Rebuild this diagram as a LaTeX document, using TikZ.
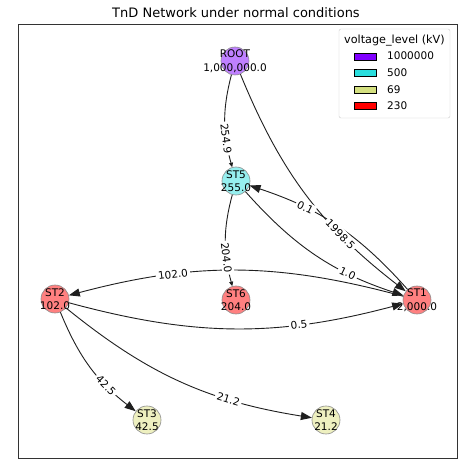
\documentclass[tikz,border=0pt]{standalone}
\usepackage{fontspec}
\setmainfont{DejaVu Sans}
\usetikzlibrary{arrows.meta}
\definecolor{lgpurple}{HTML}{8000FF}
\definecolor{lgcyan}{HTML}{2ADEDE}
\definecolor{lgolive}{HTML}{D4E080}
\definecolor{lgred}{HTML}{FF0000}
\definecolor{ndpurple}{HTML}{BF80FF}
\definecolor{ndcyan}{HTML}{96EFEF}
\definecolor{ndolive}{HTML}{EEF0C0}
\definecolor{ndred}{HTML}{FF8080}
\begin{document}
\begin{tikzpicture}[x=1pt,y=1pt,
  stn/.style={circle, draw=black!45, line width=0.6pt, minimum size=28pt, inner sep=0pt},
  stxt/.style={align=center, font=\fontsize{10.5}{13.5}\selectfont, inner sep=0pt},
  edgeline/.style={line width=0.9pt, draw=black!88, bend right=15},
  bigtip/.style={-{Triangle[length=11pt,width=8pt]}},
  smalltip/.style={-{Triangle[length=4.5pt,width=4pt]}},
  elab/.style={pos=0.7, sloped, fill=white, inner sep=2pt, font=\fontsize{10.5}{12}\selectfont},
  lgpatch/.style={draw=black, line width=0.6pt},
  lgtxt/.style={anchor=west, font=\fontsize{10.5}{12}\selectfont, inner sep=0pt}]
\useasboundingbox (0,0) rectangle (469,475);
\fill[white] (0,0) rectangle (469,475);
\node[font=\fontsize{13}{15}\selectfont] (title) at (236,462) {TnD Network under normal conditions};
\draw[black!80, line width=0.8pt] (18,17) rectangle (457,451);

% legend
\draw[black!20, fill=white, rounded corners=2pt] (339,357) rectangle (450,446);
\node[font=\fontsize{11.2}{13}\selectfont] (lgtitle) at (394.5,434.5) {voltage\_level (kV)};
\draw[lgpatch, fill=lgpurple] (354,415) rectangle (376,422);
\draw[lgpatch, fill=lgcyan] (354,399) rectangle (376,406);
\draw[lgpatch, fill=lgolive] (354,382) rectangle (376,389);
\draw[lgpatch, fill=lgred] (354,366) rectangle (376,373);
\node[lgtxt] (lg1) at (387,419) {1000000};
\node[lgtxt] (lg2) at (387,402.5) {500};
\node[lgtxt] (lg3) at (387,385.5) {69};
\node[lgtxt] (lg4) at (387,369) {230};

% nodes
\node[stn, fill=ndpurple] (root) at (235,414) {};
\node[stn, fill=ndcyan] (st5) at (236,294) {};
\node[stn, fill=ndred] (st6) at (236,175) {};
\node[stn, fill=ndred] (st2) at (55,176) {};
\node[stn, fill=ndred] (st1) at (417,175) {};
\node[stn, fill=ndolive] (st3) at (147,55) {};
\node[stn, fill=ndolive] (st4) at (326,55) {};
\node[stxt] (troot) at (root) {ROOT\\1,000,000.0};
\node[stxt] (tst5) at (st5) {ST5\\255.0};
\node[stxt] (tst6) at (st6) {ST6\\204.0};
\node[stxt] (tst2) at (st2) {ST2\\102.0};
\node[stxt] (tst1) at (st1) {ST1\\2,000.0};
\node[stxt] (tst3) at (st3) {ST3\\42.5};
\node[stxt] (tst4) at (st4) {ST4\\21.2};

% edges
\draw[edgeline, smalltip] (root) to (st5);
\draw[edgeline, smalltip] (st5) to (st6);
\draw[edgeline, bigtip] (root) to (st1);
\draw[edgeline, bigtip] (st1) to (st5);
\draw[edgeline, bigtip] (st5) to (st1);
\draw[edgeline, bigtip] (st1) to (st2);
\draw[edgeline, bigtip] (st2) to (st1);
\draw[edgeline, bigtip] (st2) to (st3);
\draw[edgeline, bigtip] (st2) to (st4);

% edge labels
\path[bend right=15] (root) to node[elab] (l1) {254.9} (st5);
\path[bend right=15] (st5) to node[elab] (l2) {204.0} (st6);
\path[bend right=15] (root) to node[elab] (l3) {1998.5} (st1);
\path[bend right=15] (st1) to node[elab] (l4) {0.1} (st5);
\path[bend right=15] (st5) to node[elab] (l5) {1.0} (st1);
\path[bend right=15] (st1) to node[elab] (l6) {102.0} (st2);
\path[bend right=15] (st2) to node[elab] (l7) {0.5} (st1);
\path[bend right=15] (st2) to node[elab] (l8) {42.5} (st3);
\path[bend right=15] (st2) to node[elab] (l9) {21.2} (st4);
\end{tikzpicture}
\end{document}
